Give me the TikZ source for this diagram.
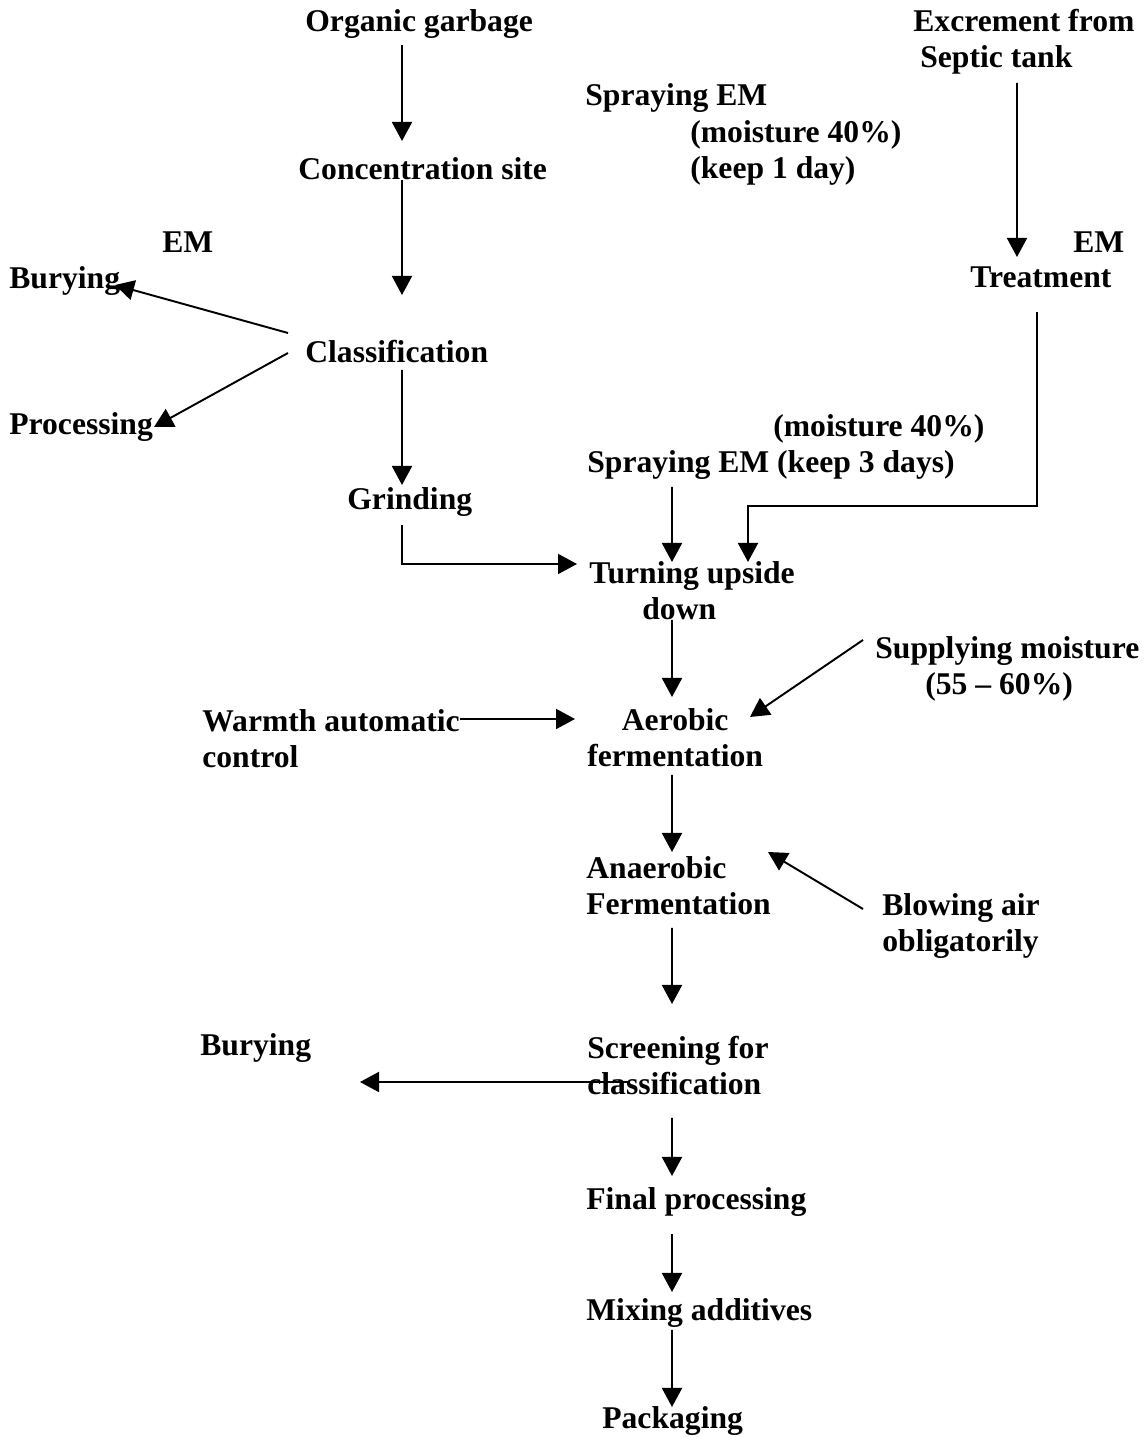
\documentclass[tikz,border=0pt]{standalone}
\usepackage{fontspec}
\setmainfont{Liberation Serif}
\usetikzlibrary{arrows.meta}

\begin{document}
\begin{tikzpicture}[
    lbl/.style={inner sep=0pt, anchor=base west, align=left,
      font=\bfseries\fontsize{18}{20.8}\selectfont},
    arr/.style={line width=1.1pt, -{Triangle[length=0.38cm,width=0.4cm]}}]
  \useasboundingbox (0,0) rectangle (22.96,28.74);
  % garbage side
  \node[lbl] (org) at (6.10,28.10) {Organic garbage};
  \node[lbl] (conc) at (5.96,25.14) {Concentration site};
  \node[lbl] (emL) at (3.24,23.68) {EM};
  \node[lbl] (buryA) at (0.18,22.96) {Burying};
  \node[lbl] (class) at (6.10,21.48) {Classification};
  \node[lbl] (proc) at (0.18,20.04) {Processing};
  \node[lbl] (grind) at (6.94,18.54) {Grinding};
  % septic tank side (multi-line labels sit on their last line)
  \node[lbl] (sprayA) at (11.70,25.16) {Spraying EM\\\hspace*{2.10cm}(moisture 40\%)\\\hspace*{2.10cm}(keep 1 day)};
  \node[lbl] (excr) at (18.26,27.38) {Excrement from\\\hspace*{0.14cm}Septic tank};
  \node[lbl] (emR) at (21.46,23.68) {EM};
  \node[lbl] (treat) at (19.40,22.98) {Treatment};
  % main line
  \node[lbl] (sprayB) at (11.74,19.28) {\hspace*{3.72cm}(moisture 40\%)\\Spraying EM (keep 3 days)};
  \node[lbl] (turn) at (11.78,16.34) {Turning upside\\\hspace*{1.06cm}down};
  \node[lbl] (supply) at (17.50,14.84) {Supplying moisture\\\hspace*{1.00cm}(55 -- 60\%)};
  \node[lbl] (warmth) at (4.04,13.38) {Warmth automatic\\control};
  \node[lbl, align=center] (aer) at (11.74,13.40) {Aerobic\\fermentation};
  \node[lbl] (anaer) at (11.72,10.44) {Anaerobic\\Fermentation};
  \node[lbl] (blow) at (17.64,9.70) {Blowing air\\obligatorily};
  \node[lbl] (buryB) at (4.00,7.62) {Burying};
  \node[lbl] (screen) at (11.74,6.84) {Screening for\\classification};
  \node[lbl] (final) at (11.72,4.54) {Final processing};
  \node[lbl] (mix) at (11.72,2.32) {Mixing additives};
  \node[lbl] (pack) at (12.04,0.16) {Packaging};
  % arrows of the garbage side
  \draw[arr] ([xshift=1.94cm,yshift=-0.26cm]org.base west) -- ([xshift=2.08cm,yshift=0.78cm]conc.base west);
  \draw[arr] ([xshift=2.08cm]conc.base west) -- ([xshift=1.94cm,yshift=1.36cm]class.base west);
  \draw[arr] ([xshift=-0.34cm,yshift=0.60cm]class.base west) -- ([xshift=2.12cm,yshift=0.08cm]buryA.base west);
  \draw[arr] ([xshift=-0.34cm,yshift=0.20cm]class.base west) -- ([xshift=2.90cm,yshift=0.16cm]proc.base west);
  \draw[arr] ([xshift=1.94cm,yshift=-0.14cm]class.base west) -- ([xshift=1.10cm,yshift=0.50cm]grind.base west);
  \draw[arr] ([xshift=1.10cm,yshift=-0.30cm]grind.base west) |- ([xshift=-0.24cm,yshift=1.12cm]turn.base west);
  % arrows of the septic tank side
  \draw[arr] ([xshift=2.08cm,yshift=-0.30cm]excr.base west) -- ([xshift=0.94cm,yshift=0.62cm]treat.base west);
  \draw[arr] ([xshift=1.34cm,yshift=-0.48cm]treat.base west) -- ++(0,-3.88) -| ([xshift=3.18cm,yshift=1.16cm]turn.base west);
  % arrows of the main line
  \draw[arr] ([xshift=1.70cm,yshift=-0.28cm]sprayB.base west) -- ([xshift=1.66cm,yshift=1.16cm]turn.base west);
  \draw[arr] ([xshift=1.66cm]turn.base west) -- ([xshift=1.70cm,yshift=1.40cm]aer.base west);
  \draw[arr] ([xshift=-0.24cm,yshift=1.10cm]supply.base west) -- ([xshift=3.26cm,yshift=1.00cm]aer.base west);
  \draw[arr] ([xshift=5.16cm,yshift=0.98cm]warmth.base west) -- ([xshift=-0.24cm,yshift=0.96cm]aer.base west);
  \draw[arr] ([xshift=1.70cm,yshift=-0.16cm]aer.base west) -- ([xshift=1.72cm,yshift=1.26cm]anaer.base west);
  \draw[arr] ([xshift=-0.38cm,yshift=0.86cm]blow.base west) -- ([xshift=3.64cm,yshift=1.26cm]anaer.base west);
  \draw[arr] ([xshift=1.72cm,yshift=-0.26cm]anaer.base west) -- ([xshift=1.70cm,yshift=1.82cm]screen.base west);
  \draw[arr] ([xshift=0.86cm,yshift=0.26cm]screen.base west) -- ([xshift=3.20cm,yshift=-0.52cm]buryB.base west);
  \draw[arr] ([xshift=1.70cm,yshift=-0.46cm]screen.base west) -- ([xshift=1.72cm,yshift=0.68cm]final.base west);
  \draw[arr] ([xshift=1.72cm,yshift=-0.48cm]final.base west) -- ([xshift=1.72cm,yshift=0.58cm]mix.base west);
  \draw[arr] ([xshift=1.72cm,yshift=-0.18cm]mix.base west) -- ([xshift=1.40cm,yshift=0.44cm]pack.base west);
\end{tikzpicture}
\end{document}
